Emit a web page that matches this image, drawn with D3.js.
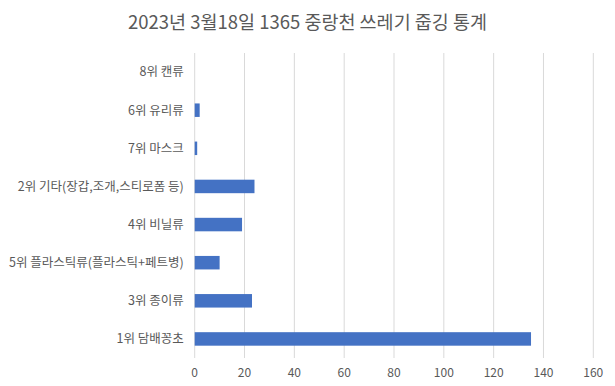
<!DOCTYPE html>
<meta charset="utf-8">
<script src="https://cdn.jsdelivr.net/npm/d3@7"></script>
<style>
  body { margin: 0; background: #fff; }
  text { font-family: "Noto Sans CJK KR", "Noto Sans", sans-serif; fill: #595959; }
</style>
<body>
<div id="chart"></div>
<script>
// categories top to bottom, as in the picture
var categories = ["8위 캔류", "6위 유리류", "7위 마스크", "2위 기타(장갑,조개,스티로폼 등)",
                  "4위 비닐류", "5위 플라스틱류(플라스틱+페트병)", "3위 종이류", "1위 담배꽁초"];
var counts = [0, 2, 1, 24, 19, 10, 23, 135];
var xTicks = [0, 20, 40, 60, 80, 100, 120, 140, 160];
var title = "2023년 3월18일 1365 중랑천 쓰레기 줍깅 통계";

var W = 615, H = 386;
var margin = {top: 53, right: 21.7, bottom: 28, left: 194.7};

var svg = d3.select("#chart").append("svg")
    .attr("width", W).attr("height", H);

svg.append("text")
    .attr("x", W / 2).attr("y", 29)
    .attr("text-anchor", "middle")
    .style("font-size", "18.5px")
    .text(title);

var g = svg.append("g")
    .attr("transform", "translate(" + margin.left + "," + margin.top + ")");

var w = W - margin.left - margin.right,
    h = H - margin.top - margin.bottom;

var x = d3.scaleLinear().domain([0, 160]).range([0, w]);
var y = d3.scaleBand().domain(categories).range([0, h]).paddingInner(0.646).paddingOuter(0.323);

// gridlines
g.selectAll(".grid").data(xTicks).enter().append("line")
    .attr("x1", d => x(d)).attr("x2", d => x(d))
    .attr("y1", 0).attr("y2", h)
    .style("stroke", "#d9d9d9").style("stroke-width", 1);

// bars
g.selectAll(".bar").data(counts).enter().append("rect")
    .attr("x", x(0))
    .attr("y", (d, i) => y(categories[i]))
    .attr("width", d => x(d) - x(0))
    .attr("height", y.bandwidth())
    .style("fill", "#4472c4");

// x tick labels
g.selectAll(".xt").data(xTicks).enter().append("text")
    .attr("x", d => x(d)).attr("y", h + 19)
    .attr("text-anchor", "middle")
    .style("font-size", "12px")
    .text(d => d);

// category labels
g.selectAll(".yt").data(categories).enter().append("text")
    .attr("x", -11)
    .attr("y", d => y(d) + y.bandwidth() / 2)
    .attr("dy", "0.35em")
    .attr("text-anchor", "end")
    .style("font-size", "12.5px")
    .text(d => d);
</script>
</body>
